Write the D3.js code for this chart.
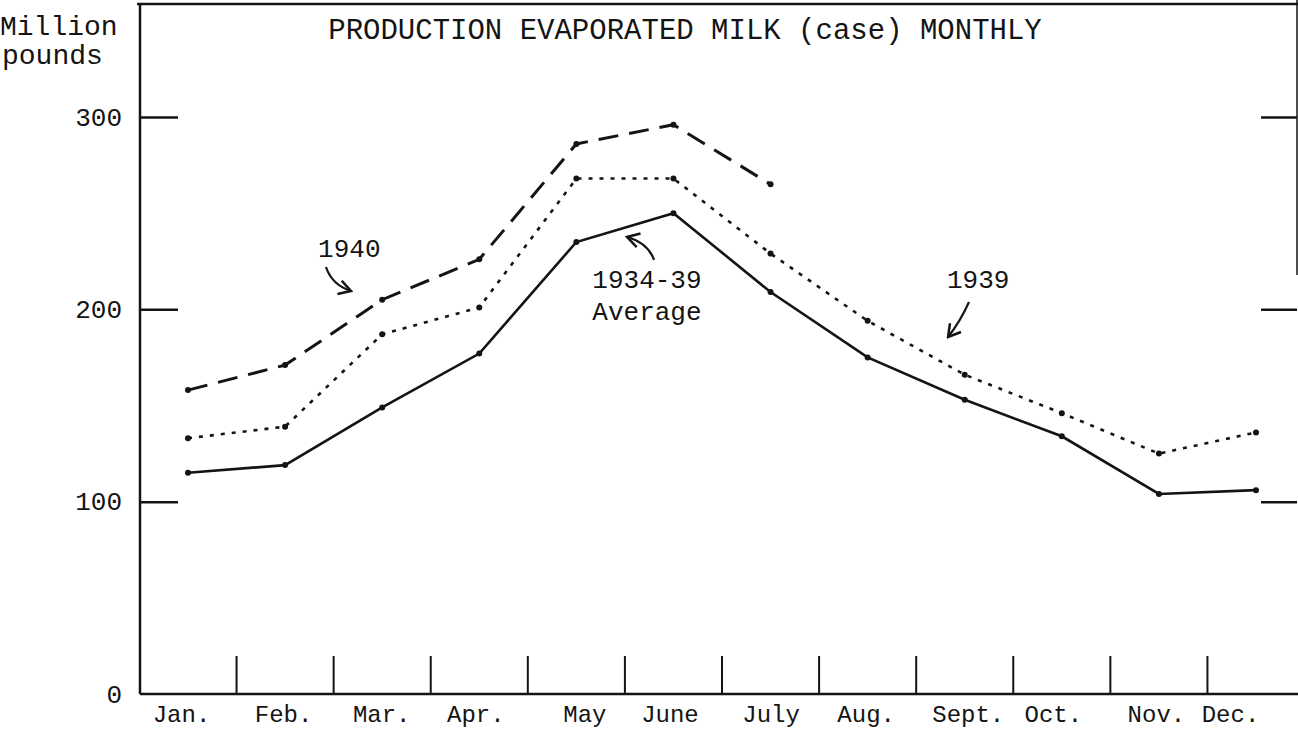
<!DOCTYPE html>
<html lang="en">
<head>
  <meta charset="UTF-8">
  <title>Production Evaporated Milk</title>
  <style>
    body { margin: 0; background: #fff; }
    svg { display: block; }
    text { font-family: 'Liberation Mono', 'Courier New', monospace; fill: #141414; }
    .line { fill: none; stroke: #141414; }
    .rule { stroke: #141414; }
  </style>
</head>
<body>
  <svg width="1298" height="731"></svg>
  <script src="https://cdnjs.cloudflare.com/ajax/libs/d3/7.8.5/d3.min.js"></script>
  <script>
    // values, million pounds
    var months = ['Jan.', 'Feb.', 'Mar.', 'Apr.', 'May', 'June', 'July', 'Aug.', 'Sept.', 'Oct.', 'Nov.', 'Dec.']
    var avg3439 = [115, 119, 149, 177, 235, 250, 209, 175, 153, 134, 104, 106]
    var y1939 = [133, 139, 187, 201, 268, 268, 229, 194, 166, 146, 125, 136]
    var y1940 = [158, 171, 205, 226, 286, 296, 265]
    var yTicks = [0, 100, 200, 300]
    var title = 'PRODUCTION EVAPORATED MILK (case) MONTHLY'

    // typed labels sit a little off the month centres
    var monthLabelDx = [-7, -2, -1, -4, 8, -4, 0, -2, 3, -9, -3, -26]

    var svg = d3.select('svg')
    var plotLeft = 140, plotRight = 1297, plotTop = 4, plotBottom = 694

    var x = d3.scalePoint().domain(months).range([188, 1256])
    var xi = d3.scaleLinear().domain([0, 11]).range(x.range())
    var y = d3.scaleLinear().domain([0, 300]).range([plotBottom, 117])

    // frame
    svg.append('line').attr('class', 'rule')
      .attr('x1', plotLeft - 3).attr('x2', 1298)
      .attr('y1', plotTop).attr('y2', plotTop)
      .attr('stroke-width', 2.5)
    svg.append('line').attr('class', 'rule')
      .attr('x1', plotLeft).attr('x2', plotLeft)
      .attr('y1', plotTop).attr('y2', plotBottom)
      .attr('stroke-width', 2.5)
    svg.append('line').attr('class', 'rule')
      .attr('x1', plotRight).attr('x2', plotRight)
      .attr('y1', 0).attr('y2', 275)
      .attr('stroke-width', 1.5)
    svg.append('line').attr('class', 'rule')
      .attr('x1', plotLeft).attr('x2', 1298)
      .attr('y1', plotBottom).attr('y2', plotBottom)
      .attr('stroke-width', 2.5)

    // left axis
    var yAxis = svg.append('g')
      .attr('transform', 'translate(' + plotLeft + ',0)')
      .call(d3.axisLeft(y).tickValues(yTicks).tickSizeInner(-38).tickSizeOuter(0).tickPadding(18))
    yAxis.select('.domain').remove()
    yAxis.selectAll('.tick line').attr('stroke', '#141414').attr('stroke-width', 2.5)
      .filter(function(d) { return d === 0 }).remove()
    yAxis.selectAll('.tick text').attr('font-size', '26px').attr('fill', '#141414')
      .style('font-family', "'Liberation Mono', monospace")

    // right axis, ticks only
    var yAxisR = svg.append('g')
      .attr('transform', 'translate(' + plotRight + ',0)')
      .call(d3.axisRight(y).tickValues(yTicks.slice(1)).tickSizeInner(-36).tickSizeOuter(0).tickFormat(''))
    yAxisR.select('.domain').remove()
    yAxisR.selectAll('.tick line').attr('stroke', '#141414').attr('stroke-width', 2.5)

    // month labels
    var xAxis = svg.append('g')
      .attr('transform', 'translate(0,' + plotBottom + ')')
      .call(d3.axisBottom(x).tickSize(0).tickPadding(11))
    xAxis.select('.domain').remove()
    xAxis.selectAll('.tick text')
      .attr('font-size', '24px').attr('fill', '#141414')
      .style('font-family', "'Liberation Mono', monospace")
      .attr('dx', function(d, i) { return monthLabelDx[i] })

    // dividers between months
    var dividers = months.slice(1).map(function(m, i) {
      return (x(months[i]) + x(m)) / 2
    })
    svg.append('g').selectAll('line')
      .data(dividers)
      .enter()
      .append('line')
      .attr('class', 'rule')
      .attr('x1', function(d) { return d }).attr('x2', function(d) { return d })
      .attr('y1', plotBottom).attr('y2', plotBottom - 38)
      .attr('stroke-width', 2)

    // series
    var line = d3.line()
      .x(function(d, i) { return x(months[i]) })
      .y(function(d) { return y(d) })

    var series = [
      { values: avg3439, width: 2.6, dash: null },
      { values: y1939, width: 2.6, dash: '4,7' },
      { values: y1940, width: 3, dash: '20,11' }
    ]

    series.forEach(function(s) {
      svg.append('path')
        .datum(s.values)
        .attr('class', 'line')
        .attr('stroke-width', s.width)
        .attr('stroke-dasharray', s.dash)
        .attr('d', line)
      svg.append('g').selectAll('circle')
        .data(s.values)
        .enter()
        .append('circle')
        .attr('cx', function(d, i) { return x(months[i]) })
        .attr('cy', function(d) { return y(d) })
        .attr('r', 3)
        .attr('fill', '#141414')
    })

    // titles
    svg.append('text')
      .attr('x', 685).attr('y', 39)
      .attr('text-anchor', 'middle')
      .attr('font-size', '29px')
      .text(title)
    svg.append('text')
      .attr('x', 0).attr('y', 35)
      .attr('font-size', '28px')
      .text('Million')
    svg.append('text')
      .attr('x', 2).attr('y', 64)
      .attr('font-size', '28px')
      .text('pounds')

    // hand notes, placed in month-index / value units
    var notes = [
      { lines: ['1940'], i: 1.34, v: 227, anchor: 'start' },
      { lines: ['1934-39', 'Average'], i: 4.727, v: 211, anchor: 'middle' },
      { lines: ['1939'], i: 7.817, v: 211, anchor: 'start' }
    ]
    notes.forEach(function(n) {
      n.lines.forEach(function(t, k) {
        svg.append('text')
          .attr('x', xi(n.i)).attr('y', y(n.v) + k * 32)
          .attr('text-anchor', n.anchor)
          .attr('font-size', '26px')
          .text(t)
      })
    })

    svg.append('defs').append('marker')
      .attr('id', 'head')
      .attr('viewBox', '-14 -10 16 20')
      .attr('markerWidth', 16).attr('markerHeight', 20)
      .attr('markerUnits', 'userSpaceOnUse')
      .attr('orient', 'auto')
      .append('path')
      .attr('d', 'M-12,-7 L0,0 L-12,7')
      .attr('fill', 'none').attr('stroke', '#141414').attr('stroke-width', 2.5)

    var arrows = [
      [[1.421, 222.0], [1.483, 212.7], [1.679, 209.5]],
      [[4.800, 225.7], [4.738, 234.5], [4.522, 237.6]],
      [[8.044, 203.8], [7.951, 193.4], [7.828, 185.6]]
    ]
    arrows.forEach(function(a) {
      var p = d3.path()
      p.moveTo(xi(a[0][0]), y(a[0][1]))
      p.quadraticCurveTo(xi(a[1][0]), y(a[1][1]), xi(a[2][0]), y(a[2][1]))
      svg.append('path')
        .attr('d', p.toString())
        .attr('fill', 'none').attr('stroke', '#141414').attr('stroke-width', 2.2)
        .attr('marker-end', 'url(#head)')
    })
  </script>
</body>
</html>
